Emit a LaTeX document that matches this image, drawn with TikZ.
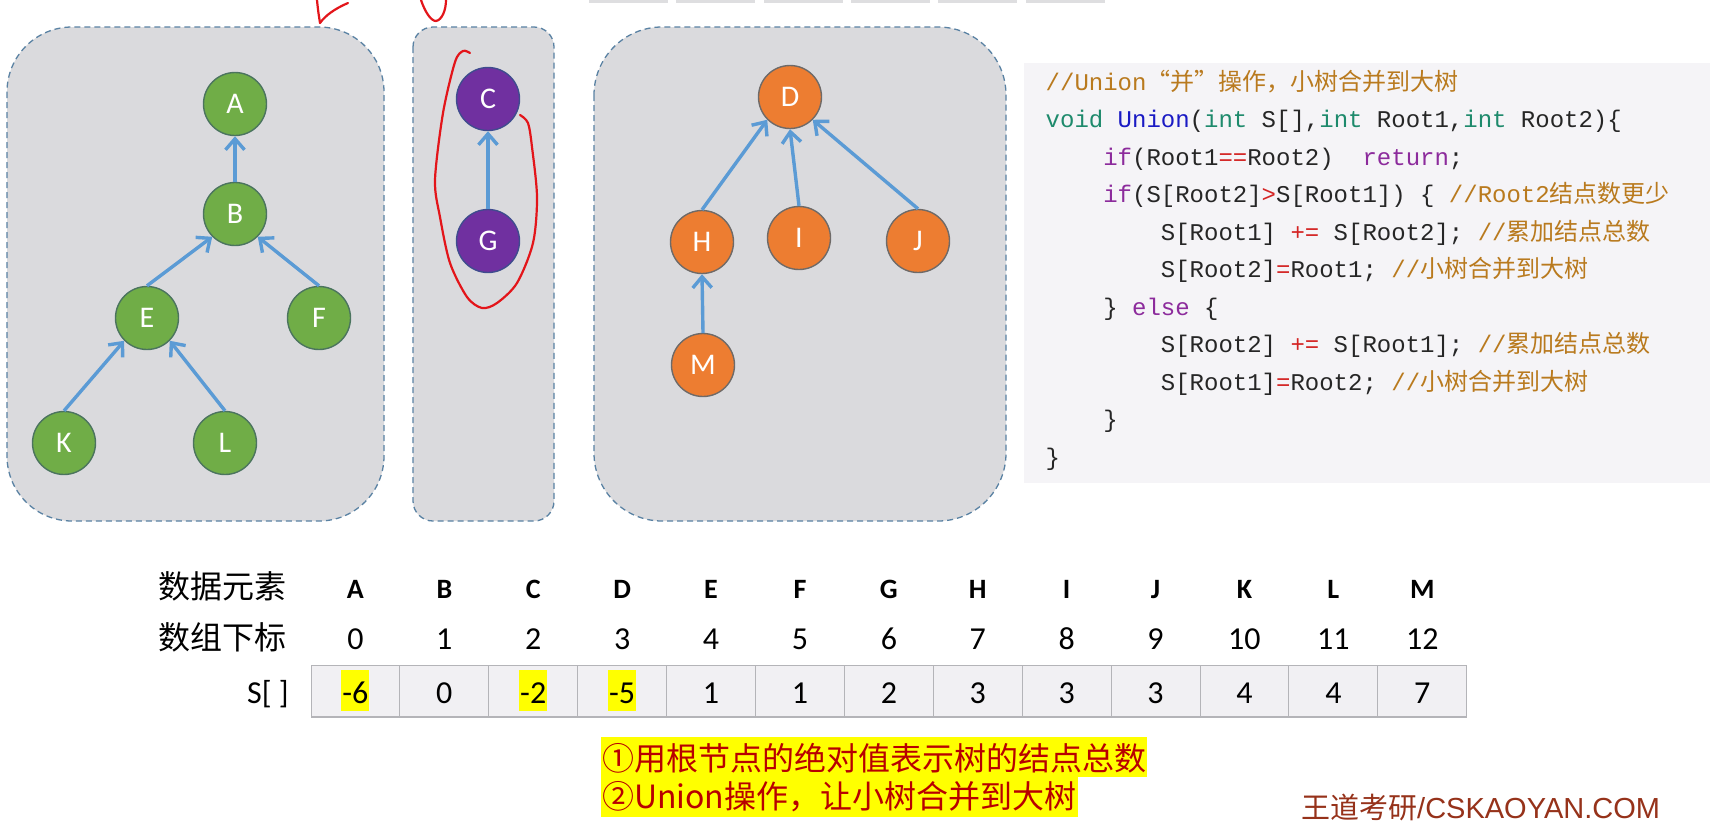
\documentclass[tikz,border=0pt]{standalone}
\usepackage{fontspec}
\setmainfont{Carlito}
\newfontfamily\cjk{Noto Sans CJK SC}
\newfontfamily\mono{Liberation Mono}
\newfontfamily\arialf{Liberation Sans}
\usetikzlibrary{arrows.meta}

\definecolor{panelfill}{HTML}{DADADD}
\definecolor{paneledge}{HTML}{5A82A3}
\definecolor{greenfill}{HTML}{70AD47}
\definecolor{greenedge}{HTML}{4B745E}
\definecolor{purplefill}{HTML}{7030A0}
\definecolor{purpleedge}{HTML}{3F4C8E}
\definecolor{orangefill}{HTML}{ED7D31}
\definecolor{orangeedge}{HTML}{6E6A68}
\definecolor{linkblue}{HTML}{5B9BD5}
\definecolor{inkred}{HTML}{E3151A}
\definecolor{codebg}{HTML}{F5F4F7}
\definecolor{cmtc}{HTML}{B97A1E}
\definecolor{typec}{HTML}{1E8A6C}
\definecolor{funcc}{HTML}{1A1AC4}
\definecolor{keyc}{HTML}{8C2B9C}
\definecolor{opc}{HTML}{D42424}
\definecolor{plainc}{HTML}{262626}
\definecolor{cellfill}{HTML}{F1F0F3}
\definecolor{celledge}{HTML}{B4B4B8}
\definecolor{marker}{HTML}{FFFF00}
\definecolor{notered}{HTML}{B80000}
\definecolor{brand}{HTML}{96321A}
\definecolor{tabgray}{HTML}{DEDEE0}

% syntax colouring helpers for the code listing
\newcommand{\cty}[1]{\textcolor{typec}{#1}}
\newcommand{\cfun}[1]{\textcolor{funcc}{#1}}
\newcommand{\ckw}[1]{\textcolor{keyc}{#1}}
\newcommand{\cop}[1]{\textcolor{opc}{#1}}
\newcommand{\ccm}[1]{\textcolor{cmtc}{#1}}
\newcommand{\czh}[1]{{\cjk\fontsize{24}{28}\selectfont #1}}

\begin{document}
\begin{tikzpicture}[x=1pt,y=-1pt,
  panel/.style={fill=panelfill,draw=paneledge,line width=1.3pt,dash pattern=on 6pt off 4pt},
  vertex/.style={circle,minimum size=63pt,inner sep=0pt,line width=1.4pt,text=white,font=\fontsize{30}{30}\selectfont},
  gv/.style={vertex,fill=greenfill,draw=greenedge},
  pv/.style={vertex,fill=purplefill,draw=purpleedge},
  ov/.style={vertex,fill=orangefill,draw=orangeedge},
  link/.style={draw=linkblue,line width=3.4pt,-{Straight Barb[length=11pt,width=19pt]}},
  code/.style={anchor=base west,inner sep=0pt,text=plainc,font=\mono\fontsize{24}{28}\selectfont},
  head/.style={anchor=base,inner sep=0pt,font=\bfseries\fontsize{28}{28}\selectfont},
  idx/.style={anchor=base,inner sep=0pt,font=\fontsize{32}{32}\selectfont},
  val/.style={anchor=base,inner xsep=1pt,inner ysep=0pt,text height=33pt,text depth=8pt,font=\fontsize{32}{32}\selectfont},
  hl0/.style={},
  hl1/.style={fill=marker},
  rowlab/.style={anchor=base east,inner sep=0pt,font=\cjk\fontsize{32}{32}\selectfont},
  cell/.style={fill=cellfill,draw=celledge,line width=1pt},
  note/.style={anchor=base west,fill=marker,text=notered,inner xsep=1pt,inner ysep=0pt,font=\cjk\fontsize{32}{32}\selectfont},
  ink/.style={draw=inkred,line width=2.2pt,line cap=round,line join=round},
]
\useasboundingbox (0,0) rectangle (1710,823);
\fill[white] (0,0) rectangle (1710,823);

% thin tab strip along the top edge
\foreach \a in {589,676,764,851,938,1026}
  \fill[tabgray] (\a,0) rectangle (\a+79,2.5);

% panels holding the three trees
\path[panel,rounded corners=65pt] (7,27) rectangle (384,521);
\path[panel,rounded corners=20pt] (413,27) rectangle (554,521);
\path[panel,rounded corners=68pt] (594,27) rectangle (1006,521);

% tree rooted at A
\node[gv] (A) at (235,104) {A};
\node[gv] (B) at (235,214) {B};
\node[gv] (E) at (147,318) {E};
\node[gv] (F) at (319,318) {F};
\node[gv] (K) at (64,443) {K};
\node[gv] (L) at (225,443) {L};
\draw[link] (B.north) -- (A.south);
\draw[link] (E.north) -- (B.south west);
\draw[link] (F.north) -- (B.south east);
\draw[link] (K.north) -- (E.south west);
\draw[link] (L.north) -- (E.south east);

% tree rooted at C
\node[pv] (C) at (488,99) {C};
\node[pv] (G) at (488,241) {G};
\draw[link] (G.north) -- (C.south);

% tree rooted at D
\node[ov] (D) at (790,97) {D};
\node[ov] (H) at (702,242) {H};
\node[ov] (I) at (799,238) {I};
\node[ov] (J) at (918,241) {J};
\node[ov] (M) at (703,365) {M};
\draw[link] (H.north) -- (D.south west);
\draw[link] (I.north) -- (D.south);
\draw[link] (J.north) -- (D.south east);
\draw[link] (M.north) -- (H.south);

% code listing
\fill[codebg] (1024,63) rectangle (1710,483);
\node[code] (c1) at (1045.5,90) {\ccm{//Union\czh{“并”操作，小树合并到大树}}};
\node[code] (c2) at (1045.5,127.5) {\cty{void} \cfun{Union}(\cty{int} S[],\cty{int} Root1,\cty{int} Root2)\{};
\node[code] (c3) at (1103.1,165) {\ckw{if}(Root1\cop{==}Root2)\ \ \ckw{return};};
\node[code] (c4) at (1103.1,202.5) {\ckw{if}(S[Root2]\cop{>}S[Root1]) \{ \ccm{//Root2\czh{结点数更少}}};
\node[code] (c5) at (1160.7,240) {S[Root1] \cop{+=} S[Root2]; \ccm{//\czh{累加结点总数}}};
\node[code] (c6) at (1160.7,277.5) {S[Root2]\cop{=}Root1; \ccm{//\czh{小树合并到大树}}};
\node[code] (c7) at (1103.1,315) {\} \ckw{else} \{};
\node[code] (c8) at (1160.7,352.5) {S[Root2] \cop{+=} S[Root1]; \ccm{//\czh{累加结点总数}}};
\node[code] (c9) at (1160.7,390) {S[Root1]\cop{=}Root2; \ccm{//\czh{小树合并到大树}}};
\node[code] (c10) at (1103.1,427.5) {\}};
\node[code] (c11) at (1045.5,465) {\}};

% array table
\node[rowlab] (lab1) at (287,598) {数据元素};
\node[rowlab] (lab2) at (287,649) {数组下标};
\node[rowlab,font=\fontsize{32}{32}\selectfont] (lab3) at (289,703) {S[ ]};
\foreach \L/\v/\h [count=\i from 0] in {A/-6/1,B/0/0,C/-2/1,D/-5/1,E/1/0,F/1/0,G/2/0,H/3/0,I/3/0,J/3/0,K/4/0,L/4/0,M/7/0} {
  \pgfmathsetmacro\cx{355.45+88.9*\i}
  \draw[cell] (\cx-44.45,665) rectangle (\cx+44.45,717);
  \node[head] (h\i) at (\cx,598) {\L};
  \node[idx] (x\i) at (\cx,649) {\i};
  \node[val,hl\h] (v\i) at (\cx,703) {\v};
}
\draw[celledge,line width=2pt] (311,717) -- (1467,717);

% notes
\node[note,text height=33pt,text depth=7pt] (n1) at (601,770) {①用根节点的绝对值表示树的结点总数};
\node[note,text height=31pt,text depth=9pt] (n2) at (601,808) {②Union操作，让小树合并到大树};

% watermark
\node[anchor=base west,inner sep=0pt,text=brand,font=\fontsize{29}{29}\selectfont] (wm) at (1301,818) {{\cjk 王道考研}{\arialf /CSKAOYAN.COM}};

% hand-drawn red marks
\draw[ink] (348,3) .. controls (334,9) and (325,16) .. (320,23);
\draw[ink] (317,0) .. controls (318,10) .. (320,23);
\draw[ink] (421,0) .. controls (425,12) and (431,21) .. (436,21) .. controls (442,20) and (446,10) .. (446,0);
\draw[ink] plot[smooth] coordinates {(470,53) (463,51) (455,62) (443,113) (435,180) (440,217) (450,263) (467,297) (482,308) (497,303) (517,283) (533,243) (537,197) (532,147) (528,123) (520,115)};
\end{tikzpicture}
\end{document}
